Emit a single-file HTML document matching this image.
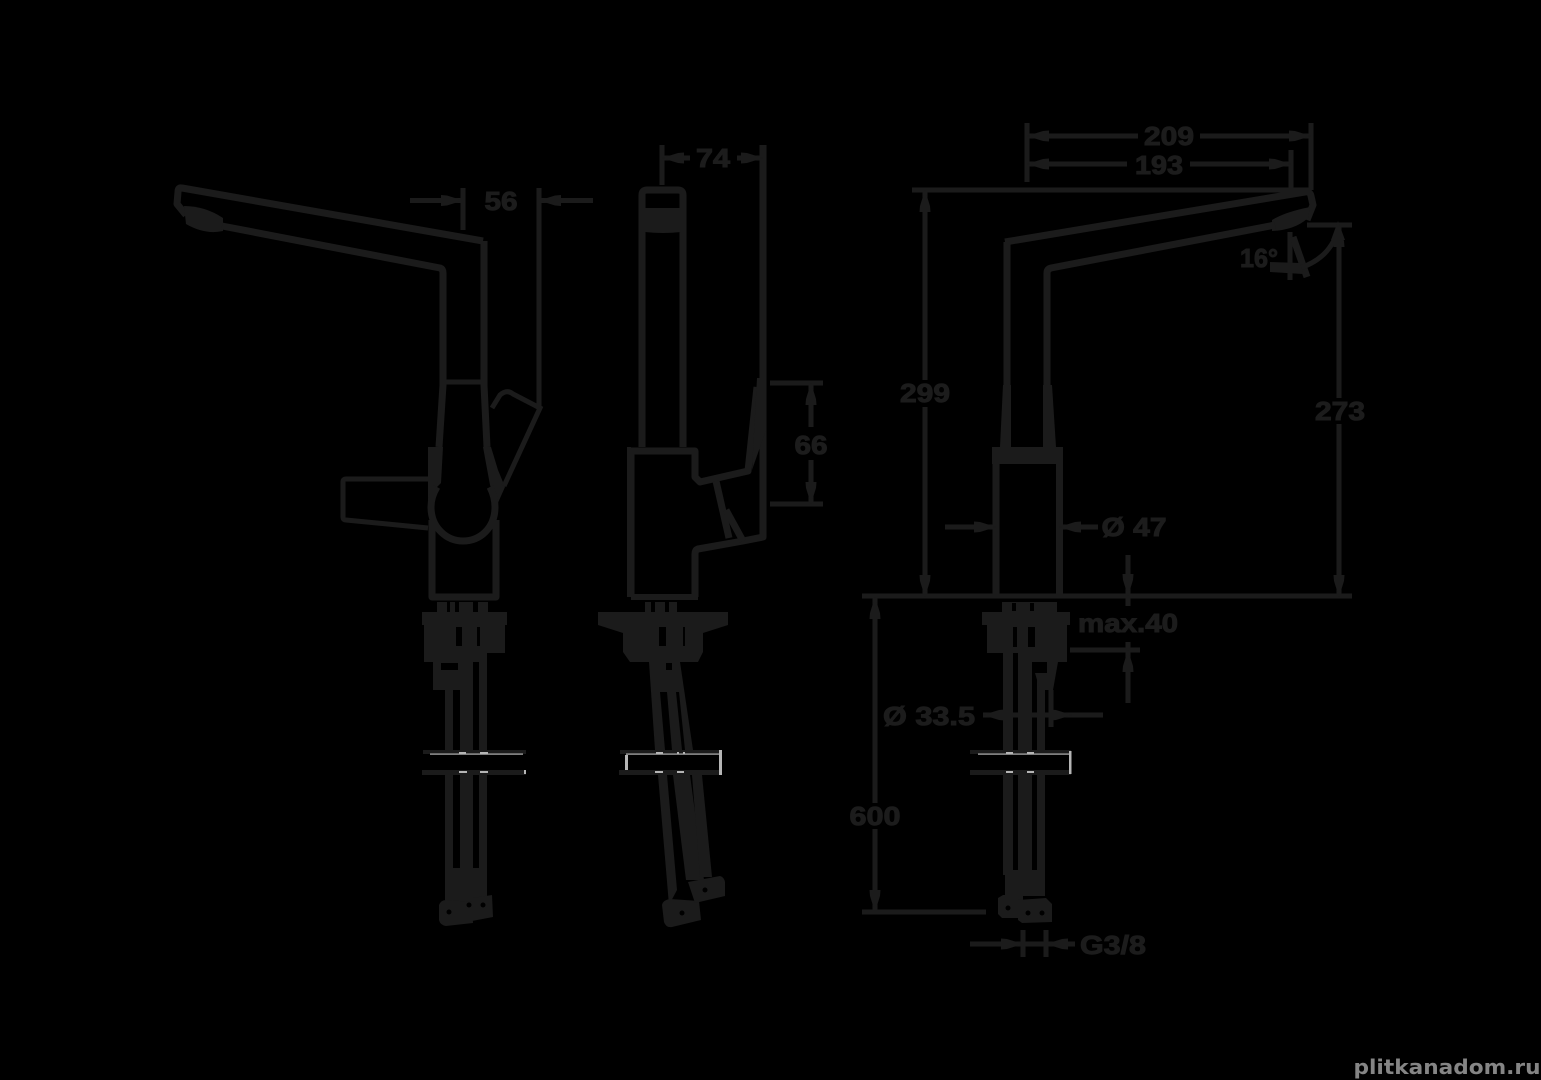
<!DOCTYPE html>
<html><head><meta charset="utf-8"><style>
html,body{margin:0;padding:0;background:#000;width:1541px;height:1080px;overflow:hidden}
svg{display:block}
text{font-family:"Liberation Sans",sans-serif;font-weight:bold;font-size:26px;fill:#1c1c1c;stroke:#1c1c1c;stroke-width:1;dominant-baseline:central;text-anchor:middle}
.l{fill:none;stroke:#1b1b1b;stroke-width:7;stroke-linejoin:round;stroke-linecap:butt}
.d{fill:none;stroke:#1b1b1b;stroke-width:5}
.f{fill:#1b1b1b}
.k{fill:#000}
.w{fill:#b5b5b5}
</style></head><body>
<svg width="1541" height="1080" viewBox="0 0 1541 1080" xmlns="http://www.w3.org/2000/svg">
<defs>
<marker id="a" viewBox="0 0 22 12" refX="22" refY="6" markerWidth="22" markerHeight="12" markerUnits="userSpaceOnUse" orient="auto-start-reverse"><polygon points="0,0.5 6,1 22,6 6,11 0,11.5" fill="#1b1b1b"/></marker>
</defs>
<rect width="1541" height="1080" fill="#000"/>

<!-- LEFT FAUCET -->
<path class="l" d="M483 241 L182 188 Q178 187 178 192 L177 204 L186 215"/>
<path class="f" d="M184 206 Q205 206 223 218 L223 231 Q205 235 186 224 Z"/>
<path class="l" d="M222 226 L440 268 Q443 269 443 273 L443 385 L439 447"/>
<path class="l" d="M484 241 L484 385 L487 447"/>
<path class="d" d="M443 382 H484"/>
<path class="f" d="M428 447 H443 L441 483 L434 490 L428 505 Z"/>
<path class="f" d="M483 447 L491 447 L498 470 L505 487 L497 505 L490 485 Z"/>
<path class="l" d="M437 487 Q431 497 431 507 C431 528 447 541 463 541 C480 541 495 528 495 507 Q495 497 490 487"/>
<path class="l" d="M432 520 V597 H496 V520"/>
<path class="d" d="M428 479 H346 Q343 479 343 482 V517 Q343 520 346 520 L428 528"/>
<path class="d" d="M492 408 L500 395 Q507 389 513 394 L540 408 L504 486"/>
<!-- left dim 56 -->
<path class="d" d="M410 200.5 H463" marker-end="url(#a)"/>
<path class="d" d="M463 188 V230"/>
<path class="d" d="M593 200.5 H539" marker-end="url(#a)"/>
<path class="d" d="M539 188 V408"/>
<text x="501" y="201" textLength="33" lengthAdjust="spacingAndGlyphs">56</text>
<!-- left lower -->
<rect class="f" x="437" y="602" width="51" height="10"/>
<rect class="k" x="447" y="602" width="3" height="10"/><rect class="k" x="455" y="602" width="4" height="10"/><rect class="k" x="473" y="602" width="5" height="10"/>
<rect class="f" x="422" y="612" width="85" height="13"/>
<rect class="f" x="424" y="625" width="81" height="28"/>
<rect class="f" x="424" y="653" width="56" height="9"/>
<rect class="k" x="456" y="627" width="6" height="19"/><rect class="k" x="477" y="627" width="3" height="19"/>
<rect class="f" x="433" y="662" width="40" height="28"/>
<rect class="k" x="441" y="663" width="17" height="7"/>
<rect class="f" x="445" y="690" width="8" height="185"/>
<rect class="f" x="460" y="660" width="13" height="215"/>
<rect class="f" x="479" y="653" width="8" height="225"/>
<rect class="f" x="445" y="868" width="42" height="37"/>
<path class="f" d="M439 905 Q441 900 446 900 L472 902 L473 923 L446 926 Q440 925 439 920 Z"/>
<path class="f" d="M472 898 L492 895 L493 917 L472 921 Z"/>
<circle class="k" cx="449" cy="912" r="2.5"/><circle class="k" cx="469" cy="905" r="2.5"/><circle class="k" cx="483" cy="905" r="2.5"/>
<rect class="k" x="420" y="753" width="110" height="19"/>
<rect class="f" x="423" y="750" width="103" height="4"/>
<rect class="f" x="422" y="770" width="104" height="5"/>
<rect class="w" x="430" y="753.5" width="93" height="1.2"/>
<rect class="w" x="459" y="752" width="7" height="2"/><rect class="w" x="480" y="752" width="8" height="2"/>
<rect class="w" x="459" y="771" width="8" height="2"/><rect class="w" x="480" y="771" width="8" height="2"/>
<rect class="w" x="524" y="770" width="2" height="4"/>

<!-- MIDDLE FAUCET -->
<path class="l" d="M642 447 V195 Q642 190 647 190 H678 Q683 190 683 195 V447"/>
<path class="f" d="M645 208 H681 V232 Q663 234 645 232 Z"/>
<path class="l" d="M631 597 V451 H695 V477 L700 482 L748 471 L757 387"/>
<rect class="f" x="631" y="594" width="67" height="6"/>
<rect class="f" x="627" y="447" width="4" height="150"/>
<path class="l" d="M763 145 V537 L743 541 L698 549 Q695 550 695 554 V597"/>
<path class="f" d="M757 378 H766 V430 L752 470 Z"/>
<path class="l" d="M716 481 L729 538"/>
<path class="l" d="M726 510 L743 541"/>
<!-- dim 74 -->
<path class="d" d="M662 145 V185"/>
<path class="d" d="M690 158 H662" marker-end="url(#a)"/>
<path class="d" d="M737 158 H763" marker-end="url(#a)"/>
<text x="713" y="158" textLength="34" lengthAdjust="spacingAndGlyphs">74</text>
<!-- dim 66 -->
<path class="d" d="M770 383 H823 M770 504 H823"/>
<path class="d" d="M811 427 V383" marker-end="url(#a)"/>
<path class="d" d="M811 460 V504" marker-end="url(#a)"/>
<text x="811" y="445" textLength="33" lengthAdjust="spacingAndGlyphs">66</text>
<!-- mid lower -->
<rect class="f" x="645" y="602" width="32" height="10"/>
<rect class="k" x="651" y="602" width="4" height="10"/><rect class="k" x="665" y="602" width="4" height="10"/>
<polygon class="f" points="598,612 728,612 728,625 703,633 703,652 698,662 630,662 623,652 623,633 598,625"/>
<rect class="k" x="659" y="627" width="7" height="19"/><rect class="k" x="683" y="627" width="2" height="19"/>
<polygon class="f" points="649,662 680,662 693,750 655,750"/>
<rect class="k" x="666" y="663" width="6" height="7"/>
<path class="k" d="M660 692 L667 692 L672 750 L665 750 Z"/>
<path class="k" d="M676 692 L679 692 L685 750 L682 750 Z"/>
<path class="f" d="M658 775 L667 775 L677 890 L669 905 Z"/>
<path class="f" d="M673 775 L690 775 L704 880 L686 880 Z"/>
<path class="f" d="M692 775 L702 775 L712 877 L700 877 Z"/>
<path class="f" d="M662 905 Q663 900 670 899 L699 901 L701 920 L672 927 Q666 928 664 922 Z"/>
<path class="f" d="M688 882 L720 876 Q724 877 725 882 L725 896 L695 903 Z"/>
<circle class="k" cx="682" cy="913" r="2.5"/><circle class="k" cx="705" cy="890" r="2.5"/>
<rect class="k" x="618" y="754" width="110" height="17"/>
<rect class="f" x="620" y="750" width="101" height="4"/>
<rect class="f" x="619" y="770" width="102" height="5"/>
<rect class="w" x="626" y="753.5" width="94" height="1.2"/>
<rect class="w" x="625" y="755" width="3" height="15"/>
<rect class="w" x="719" y="750" width="3" height="25"/>
<rect class="w" x="656" y="752" width="7" height="2"/><rect class="w" x="677" y="752" width="2" height="2"/><rect class="w" x="683" y="752" width="2" height="2"/>
<rect class="w" x="655" y="771" width="8" height="2"/><rect class="w" x="677" y="771" width="7" height="2"/>

<!-- RIGHT FAUCET -->
<path class="l" d="M1005 242 L1305 192 Q1310 191 1311 196 L1313 205 L1307 220"/>
<path class="f" d="M1272 220 Q1285 212 1310 207 L1308 218 Q1295 230 1272 231 Z"/>
<path class="l" d="M1275 225 L1051 268 Q1047 269 1047 273 V447"/>
<polygon class="f" points="1043,385 1052,385 1056,447 1043,447"/>
<path class="l" d="M1007 242 V447"/>
<polygon class="f" points="1003,385 1011,385 1011,447 1000,447"/>
<path class="d" d="M992 449.5 H1063"/>
<rect class="f" x="992" y="447" width="71" height="17"/>
<path class="l" d="M996 450 V597 M1059.5 450 V597"/>
<!-- long lines -->
<path class="d" d="M912 190 H1311"/>
<path class="d" d="M862 596 H1352"/>
<path class="d" d="M1027 123 V182 M1311 123 V190 M1291 150 V190"/>
<path class="d" d="M1138 136 H1027" marker-end="url(#a)"/>
<path class="d" d="M1200 136 H1311" marker-end="url(#a)"/>
<text x="1169" y="136" textLength="50" lengthAdjust="spacingAndGlyphs">209</text>
<path class="d" d="M1127 164 H1027" marker-end="url(#a)"/>
<path class="d" d="M1190 164 H1291" marker-end="url(#a)"/>
<text x="1159" y="165" textLength="48" lengthAdjust="spacingAndGlyphs">193</text>
<path class="d" d="M925 380 V190" marker-end="url(#a)"/>
<path class="d" d="M925 407 V597" marker-end="url(#a)"/>
<text x="925" y="393" textLength="50" lengthAdjust="spacingAndGlyphs">299</text>
<path class="d" d="M1307 225 H1352"/>
<path class="d" d="M1339 398 V225" marker-end="url(#a)"/>
<path class="d" d="M1339 424 V597" marker-end="url(#a)"/>
<text x="1340" y="411" textLength="50" lengthAdjust="spacingAndGlyphs">273</text>
<text x="1259" y="258" textLength="38" lengthAdjust="spacingAndGlyphs">16°</text>
<path class="d" d="M1290 232 V280"/>
<path class="l" d="M1293 237 L1307 277"/>
<path class="d" d="M1300 268 Q1330 258 1338 230"/>
<path class="f" d="M1270 262 L1300 263 L1303 274 L1270 272 Z"/>
<path class="f" d="M1338 221 L1345 240 L1331 240 Z"/>
<path class="d" d="M945 527 H996" marker-end="url(#a)"/>
<path class="d" d="M1098 527 H1059" marker-end="url(#a)"/>
<text x="1134" y="527" textLength="65" lengthAdjust="spacingAndGlyphs">Ø 47</text>
<path class="d" d="M1128 555 V596" marker-end="url(#a)"/>
<path class="d" d="M1128 596 V606"/>
<text x="1128" y="623" textLength="100" lengthAdjust="spacingAndGlyphs">max.40</text>
<path class="d" d="M1070 650 H1140"/>
<path class="d" d="M1128 703 V650" marker-end="url(#a)"/>
<path class="d" d="M1128 642 V650"/>
<text x="929" y="716" textLength="92" lengthAdjust="spacingAndGlyphs">Ø 33.5</text>
<path class="d" d="M1005 715 H983" marker-end="url(#a)" />
<path class="d" d="M1103 715 H1070"/>
<path class="d" d="M1050 715 H1072" marker-end="url(#a)" />
<path class="d" d="M1005 715 H1050"/>
<path class="d" d="M1051 690 V727"/>
<path class="d" d="M875 803 V597" marker-end="url(#a)"/>
<path class="d" d="M875 829 V912" marker-end="url(#a)"/>
<text x="875" y="816" textLength="51" lengthAdjust="spacingAndGlyphs">600</text>
<path class="d" d="M862 912 H986"/>
<path class="d" d="M970 944 H1023" marker-end="url(#a)"/>
<path class="d" d="M1075 944 H1046" marker-end="url(#a)"/>
<path class="d" d="M1023 930 V957 M1046 930 V957 M1023 944 H1046"/>
<text x="1113" y="945" textLength="66" lengthAdjust="spacingAndGlyphs">G3/8</text>
<!-- right lower -->
<rect class="f" x="1002" y="602" width="55" height="10"/>
<rect class="k" x="1012" y="603" width="4" height="8"/><rect class="k" x="1030" y="603" width="4" height="8"/>
<rect class="f" x="982" y="612" width="88" height="13"/>
<rect class="f" x="987" y="625" width="80" height="28"/>
<rect class="f" x="1032" y="653" width="35" height="9"/>
<rect class="k" x="1013" y="627" width="4" height="20"/><rect class="k" x="1028" y="627" width="7" height="20"/>
<rect class="f" x="1003" y="653" width="10" height="222"/>
<rect class="f" x="1018" y="653" width="14" height="222"/>
<rect class="f" x="1037" y="680" width="8" height="195"/>
<polygon class="f" points="1047,662 1058,662 1053,690 1047,690"/>
<polygon class="f" points="1035,673 1048,673 1048,690 1040,690"/>
<rect class="f" x="1005" y="870" width="40" height="26"/>
<path class="f" d="M998 898 L1003 895 L1023 895 L1023 918 L1002 918 L998 914 Z"/>
<path class="f" d="M1018 900 L1046 898 L1052 904 L1052 922 L1022 923 L1018 920 Z"/>
<circle class="k" cx="1008" cy="908" r="2.5"/><circle class="k" cx="1028" cy="913" r="2.5"/><circle class="k" cx="1042" cy="913" r="2.5"/>
<rect class="k" x="968" y="754" width="110" height="17"/>
<rect class="f" x="970" y="750" width="101" height="4"/>
<rect class="f" x="970" y="770" width="101" height="5"/>
<rect class="w" x="978" y="753.5" width="92" height="1.2"/>
<rect class="w" x="1069" y="751" width="2.5" height="23"/>
<rect class="w" x="1006" y="752" width="7" height="2"/><rect class="w" x="1027" y="752" width="7" height="2"/>
<rect class="w" x="1006" y="771" width="7" height="2"/><rect class="w" x="1027" y="771" width="7" height="2"/>

<!-- watermark -->
<text x="1447" y="1067" textLength="187" lengthAdjust="spacingAndGlyphs" style="font-family:'DejaVu Sans',sans-serif;font-size:20px;fill:#858585;stroke:none">plitkanadom.ru</text>
</svg>
</body></html>
